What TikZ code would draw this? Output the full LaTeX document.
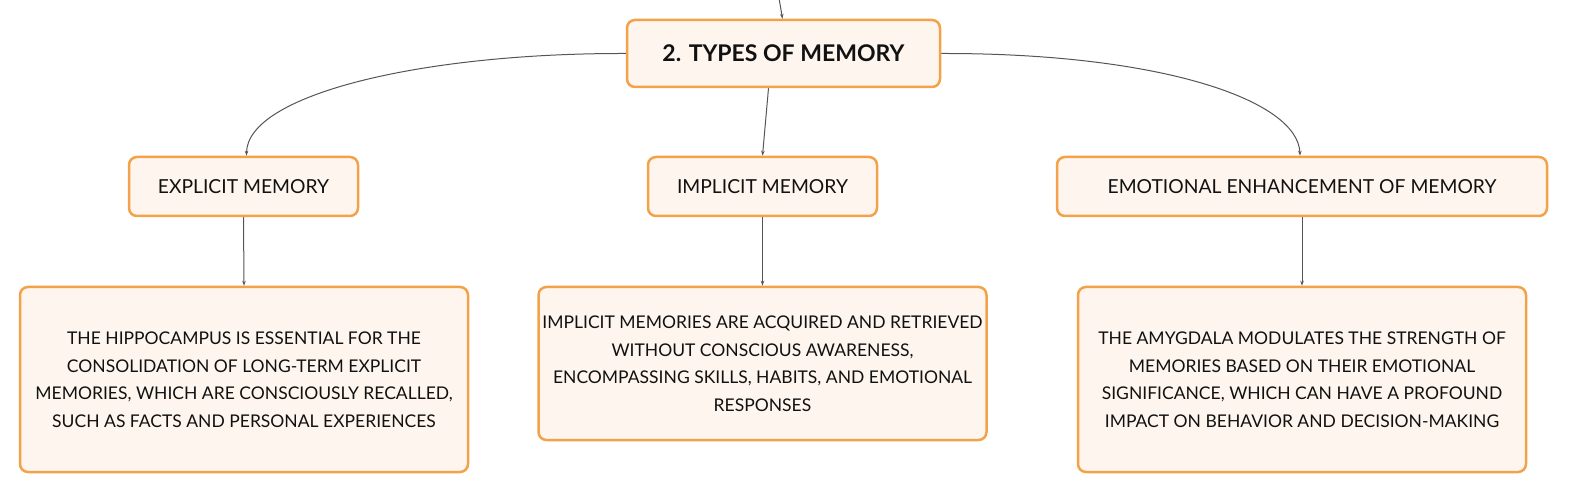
\documentclass[tikz,border=0pt]{standalone}
\usepackage{fontspec}
\setmainfont{Lato}
\usetikzlibrary{arrows.meta,calc}
\definecolor{boxfill}{HTML}{FEF6EE}
\definecolor{boxline}{HTML}{F3A24A}
\definecolor{conn}{HTML}{555555}
\definecolor{txt}{HTML}{111111}
\tikzset{
  mbox/.style={draw=boxline, line width=2.5pt, fill=boxfill, rounded corners=8pt, text=txt, align=center, inner sep=0pt},
  titlebox/.style={mbox, minimum width=313pt, minimum height=67pt, font=\fontsize{23}{28}\selectfont\bfseries},
  subbox/.style={mbox, minimum height=59pt, font=\fontsize{19.3}{24}\selectfont},
  descbox/.style={mbox, minimum width=448pt, font=\fontsize{17.5}{27.5}\selectfont},
  conn/.style={draw=conn, line width=1pt, -{Stealth[length=5pt,width=3.5pt]}}
}
\begin{document}
\begin{tikzpicture}[x=1pt,y=-1pt]
\useasboundingbox (0,0) rectangle (1569,494);
\node[titlebox] (top) at (783.5,53.5) {2. TYPES OF MEMORY};
\node[subbox, minimum width=229pt] (explicit) at (243.5,186.5) {EXPLICIT MEMORY};
\node[subbox, minimum width=229pt] (implicit) at (762.5,186.5) {IMPLICIT MEMORY};
\node[subbox, minimum width=490pt] (emotional) at (1302,186.5) {EMOTIONAL ENHANCEMENT OF MEMORY};
\node[descbox, minimum height=185pt] (d1) at (244,379.5) {THE HIPPOCAMPUS IS ESSENTIAL FOR THE\\CONSOLIDATION OF LONG-TERM EXPLICIT\\MEMORIES, WHICH ARE CONSCIOUSLY RECALLED,\\SUCH AS FACTS AND PERSONAL EXPERIENCES};
\node[descbox, minimum height=153pt] (d2) at (762.5,363.5) {IMPLICIT MEMORIES ARE ACQUIRED AND RETRIEVED\\WITHOUT CONSCIOUS AWARENESS,\\ENCOMPASSING SKILLS, HABITS, AND EMOTIONAL\\RESPONSES};
\node[descbox, minimum height=185pt] (d3) at (1302,379.5) {THE AMYGDALA MODULATES THE STRENGTH OF\\MEMORIES BASED ON THEIR EMOTIONAL\\SIGNIFICANCE, WHICH CAN HAVE A PROFOUND\\IMPACT ON BEHAVIOR AND DECISION-MAKING};
\coordinate (in) at (779,-2);
\draw[conn] (in) -- ($(top.north)+(-1,0)$);
\draw[conn] (top.west) .. controls (420,53) and (247,95) .. ($(explicit.north)+(3,0)$);
\draw[conn] (top.east) .. controls (1160,53) and (1298,100) .. ($(emotional.north)+(-2,0)$);
\draw[conn] ($(top.south)+(-15,0)$) -- (implicit.north);
\draw[conn] (explicit.south) -- (d1.north);
\draw[conn] (implicit.south) -- (d2.north);
\draw[conn] (emotional.south) -- (d3.north);
\end{tikzpicture}
\end{document}
